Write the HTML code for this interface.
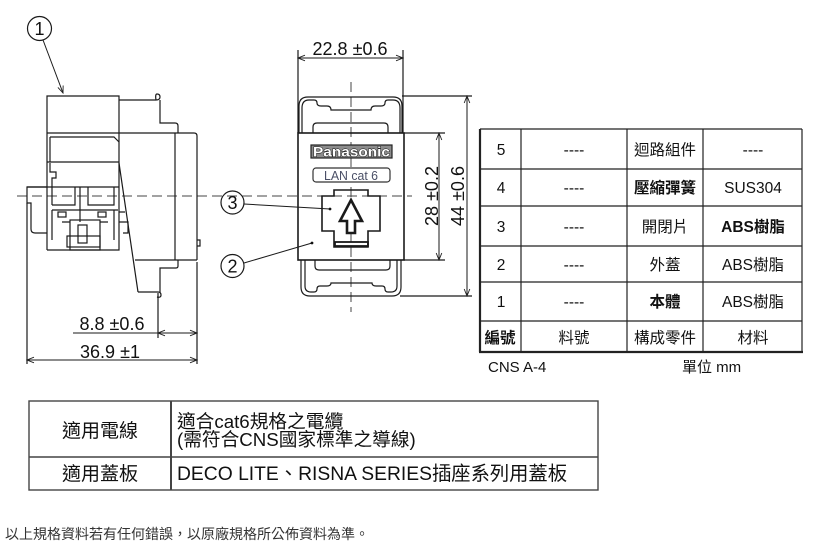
<!DOCTYPE html>
<html><head><meta charset="utf-8"><style>
html,body{margin:0;padding:0;background:#fff;}
svg{display:block;}
text{font-family:"Liberation Sans","Noto Sans CJK TC",sans-serif;fill:#111;}
</style></head><body>
<svg width="830" height="548" viewBox="0 0 830 548" xmlns="http://www.w3.org/2000/svg">
<defs>
<marker id="ah" viewBox="0 0 10 10" refX="10" refY="5" markerWidth="9" markerHeight="7" orient="auto-start-reverse" markerUnits="userSpaceOnUse">
<path d="M0,1 L10,5 L0,9" fill="none" stroke="#222" stroke-width="1.3"/>
</marker>
</defs>
<g fill="none" stroke="#1a1a1a" stroke-width="1.2">
<!-- ===== SIDE VIEW ===== -->
<path d="M17,196 H220" stroke="#444" stroke-width="1" stroke-dasharray="10,5"/>
<path d="M47,250 V96 H119 V163"/>
<path d="M47,133 H119"/>
<path d="M50,137 H114 L119,142"/>
<path d="M50,137 V162"/>
<path d="M47,162 H119"/>
<path d="M50,163 V172 H56 V178 H52 V205"/>
<path d="M47,250 H119 V163"/>
<path d="M27,187 H119"/>
<path d="M47,187 H27 V203 H31 V229 Q31,233 35,233 H47"/>
<path d="M52,205 H75 V187"/>
<path d="M80,187 V222"/>
<path d="M88,187 V205 H114 V187"/>
<path d="M52,210 H118"/>
<rect x="58" y="212" width="8" height="5"/>
<rect x="98" y="212" width="8" height="5"/>
<path d="M52,210 V240 M114,210 V240"/>
<path d="M62,222 H70 M100,222 H108"/>
<rect x="70" y="220" width="30" height="30"/>
<rect x="78" y="225" width="9" height="18"/>
<rect x="67" y="236" width="33" height="11"/>
<path d="M119,100 H156"/>
<path d="M156,100 Q160,100 160,97 Q160,94 157,94 Q155,94 156,100"/>
<path d="M160,100 V123 H175 Q178,123 178,126 V133"/>
<path d="M119,133 H194 Q197,133 197,136 V260"/>
<path d="M197,240 H200 V246 H197"/>
<path d="M175,133 V260"/>
<path d="M135,260 H197"/>
<path d="M178,260 V266 Q178,268 176,268 H160 V292"/>
<path d="M138,292 H158"/>
<path d="M158,292 Q161,292 161,295 Q161,298 157,297"/>
<path d="M119,163 L138,292"/>
<path d="M119,212 H125 M119,222 H128 V233 H123"/>
<path d="M27,203 V364"/>
<path d="M158,293 V338"/>
<path d="M197,262 V364"/>
<path d="M73,333 H158" stroke-width="1"/>
<path d="M158,333 H197" stroke-width="1" marker-start="url(#ah)" marker-end="url(#ah)"/>
<path d="M27,360 H197" stroke-width="1" marker-start="url(#ah)" marker-end="url(#ah)"/>
<circle cx="39.5" cy="28.5" r="12"/>
<path d="M43,40 L63,93" stroke-width="1" marker-end="url(#ah)"/>

<!-- ===== FRONT VIEW ===== -->
<path d="M351,82 V312" stroke="#444" stroke-width="1" stroke-dasharray="10,5"/>
<path d="M212,196 H412" stroke="#444" stroke-width="1" stroke-dasharray="10,5"/>
<path d="M299,133 V106 Q299,97 308,97 H393 Q402,97 402,106 V133"/>
<path d="M302,133 V108 Q302,100 309,100 H314 Q317,100 317,103 Q317,106 321,106 H327 Q331,106 331,110 H371 Q371,106 375,106 H381 Q385,106 385,103 Q385,100 388,100 H393 Q400,100 400,108 V133"/>
<path d="M313,133 V127 Q313,123 317,123 H384 Q388,123 388,127 V133"/>
<rect x="298" y="133" width="106" height="127" stroke-width="1.6"/>
<path d="M315,260 V266 Q315,270 319,270 H386 Q390,270 390,266 V260"/>
<path d="M301,260 V287 Q301,296 310,296 H392 Q401,296 401,287 V260"/>
<path d="M305,260 V286 Q305,292 311,292 H314 Q317,292 317,289 Q317,286 320,286 H327 Q331,286 331,283 H372 Q372,286 376,286 H382 Q385,286 385,289 Q385,292 388,292 H391 Q397,292 397,286 V260"/>
<rect x="311" y="145" width="81" height="13" fill="#8c8c8c" stroke="#222"/>
<rect x="313" y="168" width="77" height="14" rx="3" fill="#fff" stroke="#333"/>
<path d="M334,190 H368 V196 H380 V231 H368 V247 H334 V231 H322 V196 H334 Z" stroke-width="1.6"/>
<rect x="335" y="242" width="33" height="4" stroke-width="1.8"/>
<path d="M351,200 L362,221 H355 V233 H347 V221 H340 Z" fill="#fff" stroke-width="2.6" stroke-linejoin="miter"/>
<path d="M298,50 V133 M403,50 V133"/>
<path d="M298,58 H403" stroke-width="1" marker-start="url(#ah)" marker-end="url(#ah)"/>
<path d="M404,133 H445 M404,260 H445"/>
<path d="M439,133 V260" stroke-width="1" marker-start="url(#ah)" marker-end="url(#ah)"/>
<path d="M402,96 H472 M400,296 H472"/>
<path d="M467,96 V296" stroke-width="1" marker-start="url(#ah)" marker-end="url(#ah)"/>
<circle cx="232.5" cy="202.5" r="11.5"/>
<circle cx="232.5" cy="266" r="11.5"/>
<path d="M244,204 L330,209" stroke-width="1"/>
<path d="M244,263 L312,243" stroke-width="1"/>
</g>
<circle cx="330" cy="209" r="1.4" fill="#111"/>
<circle cx="312" cy="243" r="1.4" fill="#111"/>

<text x="39.5" y="35" font-size="18" text-anchor="middle">1</text>
<text x="232.5" y="209" font-size="18" text-anchor="middle">3</text>
<text x="232.5" y="272.5" font-size="18" text-anchor="middle">2</text>
<text x="112" y="330" font-size="18" text-anchor="middle">8.8 ±0.6</text>
<text x="110" y="358" font-size="18" text-anchor="middle">36.9 ±1</text>
<text x="350" y="55" font-size="18" text-anchor="middle">22.8 ±0.6</text>
<text transform="translate(438,196) rotate(-90)" font-size="18" text-anchor="middle">28 ±0.2</text>
<text transform="translate(464,196) rotate(-90)" font-size="18" text-anchor="middle">44 ±0.6</text>
<text x="351.5" y="156.5" font-size="13.5" font-weight="bold" text-anchor="middle" textLength="77" lengthAdjust="spacingAndGlyphs" style="fill:#fff;stroke:#111;stroke-width:0.9;paint-order:stroke">Panasonic</text>
<text x="351" y="180" font-size="13" text-anchor="middle" textLength="54" lengthAdjust="spacingAndGlyphs" style="fill:#4a4f66">LAN cat 6</text>

<!-- ===== PARTS TABLE ===== -->
<g stroke="#222" stroke-width="1.2" fill="none">
<path d="M480,129 H802 M480,169 H802 M480,206 H802 M480,246 H802 M480,282 H802 M480,321 H802"/>
<path d="M479,352 H803" stroke-width="2.2"/>
<path d="M480,129 V352" stroke-width="2.2"/>
<path d="M521,129 V352 M627,129 V352 M703,129 V352 M802,129 V352"/>
</g>
<g font-size="15.5" text-anchor="middle">
<text x="501" y="155">5</text><text x="574" y="155">----</text><text x="665" y="155">迴路組件</text><text x="753" y="155">----</text>
<text x="501" y="193">4</text><text x="574" y="193">----</text><text x="665" y="193" font-weight="bold">壓縮彈簧</text><text x="753" y="193">SUS304</text>
<text x="501" y="232">3</text><text x="574" y="232">----</text><text x="665" y="232">開閉片</text><text x="753" y="232" font-weight="bold">ABS樹脂</text>
<text x="501" y="270">2</text><text x="574" y="270">----</text><text x="665" y="270">外蓋</text><text x="753" y="270">ABS樹脂</text>
<text x="501" y="307">1</text><text x="574" y="307">----</text><text x="665" y="307" font-weight="bold">本體</text><text x="753" y="307">ABS樹脂</text>
<text x="500" y="343" font-weight="bold">編號</text><text x="574" y="343">料號</text><text x="665" y="343">構成零件</text><text x="753" y="343">材料</text>
</g>
<text x="488" y="372" font-size="15">CNS A-4</text>
<text x="682" y="372" font-size="15">單位 mm</text>

<!-- ===== BOTTOM TABLE ===== -->
<g stroke="#444" stroke-width="1.4" fill="none">
<rect x="29" y="401" width="569" height="89"/>
<path d="M29,457 H598"/>
<path d="M171,401 V490" stroke-width="2"/>
</g>
<text x="100" y="437" font-size="19" text-anchor="middle">適用電線</text>
<text x="100" y="480" font-size="19" text-anchor="middle">適用蓋板</text>
<text x="177" y="428" font-size="18.7">適合cat6規格之電纜</text>
<text x="177" y="446" font-size="18.7">(需符合CNS國家標準之導線)</text>
<text x="177" y="480" font-size="19.3">DECO LITE、RISNA SERIES插座系列用蓋板</text>

<text x="5" y="539" font-size="14" style="fill:#333">以上規格資料若有任何錯誤，以原廠規格所公佈資料為準。</text>
</svg>
</body></html>
